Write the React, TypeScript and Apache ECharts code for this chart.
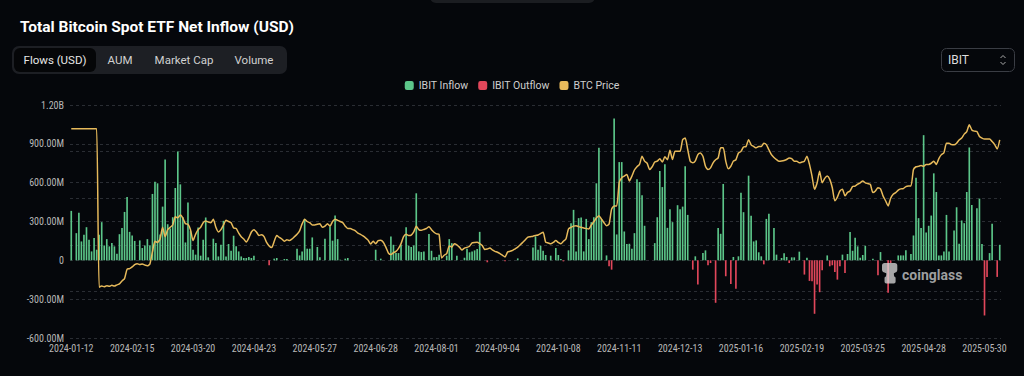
import React, { useEffect, useRef } from "react";
import * as echarts from "echarts";

// Weekday categories starting 2024-01-12 (367 trading-day slots)
const START_DATE = "2024-01-12";
const CATEGORY_COUNT = 367;
function buildWeekdays(start: string, n: number): string[] {
  const out: string[] = [];
  const d = new Date(start + "T00:00:00Z");
  while (out.length < n) {
    const wd = d.getUTCDay();
    if (wd !== 0 && wd !== 6) out.push(d.toISOString().slice(0, 10));
    d.setUTCDate(d.getUTCDate() + 1);
  }
  return out;
}
const dates = buildWeekdays(START_DATE, CATEGORY_COUNT);

// IBIT daily net flow, millions USD
const ibitFlow: number[] = [
  382, 0, 210, 367, 146, 197, 256, 159, 69, 172,
  82, 197, 295, 115, 164, 108, 133, 108, 51, 202,
  249, 374, 490, 220, 192, 150, 0, 154, 95, 115,
  164, 115, 513, 607, 595, 200, 415, 779, 279, 246,
  333, 559, 841, 587, 333, 138, 446, 228, 82, 44,
  254, 36, 159, 331, 23, 0, 167, 133, 30, 120,
  305, 30, 126, 74, 190, 108, 69, 30, 18, 18,
  26, 18, 36, 0, 0, 0, 0, 0, -38, 0,
  13, 18, 0, 0, 10, 10, 0, 0, 0, 90,
  38, 69, 320, 90, 90, 177, 0, 103, 23, 0,
  167, 0, 262, 152, 346, 164, 5, 0, 13, 18,
  0, 0, 0, 0, 0, 0, 0, 0, 0, 0,
  82, 0, 13, 0, 0, 0, 185, 120, 56, 56,
  120, 0, 256, 113, 103, 115, 518, 69, 64, 69,
  0, 203, 74, 23, 26, 44, 3, 0, 36, 164,
  133, 0, 36, 0, 0, 20, 90, 62, 69, 77,
  87, 220, 0, 0, -15, 0, 0, 0, 0, 0,
  0, -8, 0, 0, 0, 0, 15, 0, 0, 0,
  0, 0, 100, 185, 82, 113, 74, 41, 0, 36,
  0, 95, 41, 10, -8, 0, 77, 287, 390, 69,
  326, 331, 69, 320, 164, 295, 333, 595, 869, 320,
  0, 38, -46, -72, 1095, 200, 759, 759, 223, 126,
  128, 90, 210, 626, 605, 502, 267, 0, 0, 0,
  133, 333, 690, 566, 743, 251, 395, 295, 0, 426,
  395, 415, 726, 351, 0, -72, 31, -187, 0, 56,
  77, -38, -21, 0, -328, 249, 205, 590, -123, 0,
  -182, 26, -220, 31, 523, 372, 0, 654, 344, 146,
  154, 62, 31, -31, 320, 359, 0, 249, 44, 0,
  18, 54, 26, -21, 23, 23, 0, 67, 0, -110,
  20, -159, -162, -413, -187, -246, -77, 0, 38, -46,
  -38, -90, -149, -46, 44, -97, 49, 218, 74, 174,
  108, 20, 41, 113, 0, 0, 13, 0, -115, 64,
  0, 0, -251, -21, 0, 0, 38, 38, 38, 77,
  0, 49, 192, 638, 326, 249, 967, 215, 267, 346,
  672, 528, 38, 38, 69, 351, 69, 0, 231, 410,
  128, 308, 287, 528, 872, 428, 0, 403, 477, 126,
  -426, -128, 56, 282, 0, -128, 120,
];

// BTC price, thousands USD
const btcPrice: number[] = [
  109.8, 109.8, 109.8, 109.8, 109.8, 109.8, 109.8, 109.8, 109.8, 109.8,
  109.8, 41.8, 42.3, 42.0, 42.4, 42.2, 42.6, 42.3, 42.8, 43.2,
  44.5, 45.5, 49.5, 49.8, 50.5, 51.5, 51.9, 51.5, 51.8, 51.3,
  51.0, 51.8, 57.0, 61.5, 61.0, 62.5, 67.5, 63.5, 66.5, 67.5,
  68.5, 72.0, 71.6, 72.8, 71.5, 69.0, 68.8, 66.5, 61.8, 64.5,
  66.5, 67.5, 69.5, 70.2, 69.8, 69.5, 71.0, 67.5, 65.5, 66.5,
  68.5, 70.5, 70.0, 69.5, 67.2, 67.0, 65.0, 63.5, 62.5, 61.2,
  63.0, 65.5, 66.5, 65.5, 64.0, 64.3, 63.5, 61.0, 59.5, 58.8,
  61.5, 64.0, 63.2, 62.5, 61.5, 62.2, 61.8, 62.5, 63.5, 64.5,
  66.0, 69.0, 71.0, 70.0, 69.5, 68.5, 68.5, 68.8, 69.0, 67.5,
  68.0, 69.0, 68.0, 70.0, 71.0, 70.5, 70.0, 69.5, 68.0, 67.0,
  67.0, 66.5, 66.0, 65.0, 64.5, 63.8, 63.0, 62.0, 60.3, 61.5,
  60.5, 61.8, 62.0, 61.1, 59.0, 56.5, 55.8, 56.6, 57.2, 58.5,
  60.5, 63.5, 64.5, 64.0, 64.2, 65.5, 68.0, 66.5, 66.2, 66.6,
  67.0, 67.8, 66.5, 65.4, 64.7, 64.5, 54.3, 55.5, 56.2, 59.5,
  59.0, 60.5, 60.0, 59.0, 57.8, 58.6, 58.9, 59.4, 60.8, 61.0,
  61.1, 60.5, 59.7, 58.0, 58.2, 58.6, 57.8, 57.2, 56.8, 56.2,
  55.5, 54.8, 56.9, 57.2, 57.6, 58.3, 59.0, 60.0, 61.1, 62.2,
  63.3, 63.5, 63.7, 64.0, 64.2, 64.8, 65.4, 61.1, 60.8, 60.4,
  61.0, 61.8, 61.0, 60.4, 61.5, 62.5, 66.8, 67.5, 68.0, 68.2,
  67.8, 67.5, 67.2, 67.0, 66.8, 68.5, 69.9, 71.5, 72.5, 71.0,
  69.5, 68.2, 68.9, 75.3, 76.7, 76.7, 86.7, 88.8, 89.5, 90.2,
  87.4, 89.5, 92.1, 93.5, 94.5, 98.0, 95.9, 95.0, 92.3, 93.5,
  95.5, 95.9, 96.9, 95.5, 97.8, 96.5, 100.6, 96.6, 100.1, 100.1,
  100.1, 105.1, 105.8, 100.9, 95.9, 95.2, 96.0, 98.7, 99.4, 98.0,
  93.7, 92.3, 93.0, 95.2, 96.5, 97.3, 101.6, 101.6, 95.9, 92.6,
  93.7, 95.9, 96.5, 99.4, 100.1, 102.0, 102.2, 105.1, 102.9, 102.2,
  101.6, 102.2, 102.2, 103.6, 103.0, 100.8, 98.7, 97.5, 96.6, 95.9,
  96.0, 96.2, 96.6, 97.3, 97.0, 95.9, 95.9, 95.2, 95.5, 95.9,
  98.0, 94.5, 89.5, 83.8, 86.5, 91.6, 86.6, 88.5, 89.5, 88.1,
  84.5, 78.9, 80.5, 83.1, 83.8, 81.0, 82.5, 83.1, 85.0, 85.2,
  86.0, 86.6, 87.4, 86.6, 86.3, 85.9, 82.4, 83.1, 84.5, 84.0,
  81.0, 78.9, 76.7, 80.0, 81.7, 82.4, 83.5, 84.0, 84.1, 85.0,
  85.2, 85.2, 92.3, 93.5, 93.7, 94.0, 93.7, 94.5, 94.5, 95.0,
  95.9, 94.5, 97.0, 98.7, 99.5, 103.6, 103.6, 103.0, 102.9, 103.6,
  105.0, 105.8, 107.5, 108.6, 111.5, 109.3, 108.8, 108.6, 106.5, 105.8,
  105.4, 105.4, 105.4, 104.3, 103.0, 101.1, 105.0,
];

const tabLabels = ["Flows (USD)", "AUM", "Market Cap", "Volume"];
const tabCenters = [55, 120, 184, 254];

const BG = "#05070B";
const GREEN = "#5CC689";
const RED = "#E2475B";
const GOLD = "#E7BA5B";
const GRID_LINE = "#2A2D33";

function fmtAxis(v: number): string {
  if (v === 0) return "0";
  if (Math.abs(v) >= 1000) return (v / 1000).toFixed(2) + "B";
  return v.toFixed(2) + "M";
}

export default function App() {
  const ref = useRef<HTMLDivElement>(null);
  useEffect(() => {
    document.body.style.margin = "0";
    document.body.style.background = BG;
    if (!ref.current) return;
    echarts.graphic.registerShape(
      "cgLogo",
      echarts.graphic.extendPath(
        "M3 0 L15 0 Q18 0 18 3 L18 8 Q18 11 14 12 L14 14 Q14 16 16 17 L16 22 Q16 24 14 24 L5 24 Q3 24 3 22 L3 17 Q5 16 5 14 L5 12 Q0 11 0 8 L0 3 Q0 0 3 0 Z",
        {}
      )
    );
    const chart = echarts.init(ref.current, null, { renderer: "svg" });
    const axisFont = "'Liberation Sans Narrow', 'Roboto Condensed', Roboto, sans-serif";
    const tabTexts = tabLabels.map((t, i) => ({
      type: "text",
      x: tabCenters[i],
      y: 60,
      style: {
        text: t,
        fill: i === 0 ? "#E6E6E6" : "#D0D0D0",
        font: "11.5px Roboto, sans-serif",
        textAlign: "center",
        textVerticalAlign: "middle",
      },
    }));
    chart.setOption({
      animation: false,
      backgroundColor: BG,
      grid: { left: 70, right: 23, top: 105, bottom: 38 },
      legend: {
        top: 75,
        left: "center",
        icon: "roundRect",
        itemWidth: 9,
        itemHeight: 9,
        itemGap: 10,
        textStyle: { color: "#CFCFCF", fontSize: 10.5, fontFamily: "Roboto, sans-serif" },
        data: ["IBIT Inflow", "IBIT Outflow", "BTC Price"],
      },
      xAxis: {
        type: "category",
        data: dates,
        boundaryGap: true,
        axisLine: { show: false },
        axisTick: { show: false },
        axisLabel: {
          interval: 23,
          color: "#B8B8B8",
          fontSize: 10,
          fontFamily: axisFont,
          margin: 5,
        },
        splitLine: { show: false },
      },
      yAxis: [
        {
          type: "value",
          min: -600,
          max: 1200,
          interval: 300,
          axisLine: { show: false },
          axisTick: { show: false },
          axisLabel: {
            formatter: fmtAxis,
            color: "#B8B8B8",
            fontSize: 10,
            fontFamily: axisFont,
            margin: 6,
          },
          splitLine: { lineStyle: { color: GRID_LINE, type: [3, 3], width: 1 } },
        },
        {
          type: "value",
          position: "right",
          min: 20,
          max: 120,
          interval: 20,
          axisLine: { show: false },
          axisTick: { show: false },
          axisLabel: { show: false },
          splitLine: { lineStyle: { color: GRID_LINE, type: [3, 3], width: 1 } },
        },
      ],
      series: [
        {
          name: "IBIT Inflow",
          type: "bar",
          barWidth: "65%",
          barGap: "-100%",
          itemStyle: { color: GREEN },
          data: ibitFlow.map((v) => (v > 0 ? v : "-")),
        },
        {
          name: "IBIT Outflow",
          type: "bar",
          barWidth: "65%",
          barGap: "-100%",
          itemStyle: { color: RED },
          data: ibitFlow.map((v) => (v < 0 ? v : "-")),
        },
        {
          name: "BTC Price",
          type: "line",
          yAxisIndex: 1,
          showSymbol: false,
          smooth: 0.2,
          itemStyle: { color: GOLD },
          lineStyle: { color: GOLD, width: 1.5 },
          data: btcPrice,
        },
      ],
      graphic: [
        {
          type: "rect",
          shape: { x: 430, y: -10, width: 165, height: 13, r: 6 },
          style: { fill: "#1B1D21" },
        },
        {
          type: "text",
          x: 20,
          y: 27,
          style: {
            text: "Total Bitcoin Spot ETF Net Inflow (USD)",
            fill: "#FFFFFF",
            font: "bold 15.5px Roboto, sans-serif",
            textVerticalAlign: "middle",
          },
        },
        {
          type: "rect",
          shape: { x: 12, y: 46, width: 275, height: 28, r: 7 },
          style: { fill: "#1D1F24" },
        },
        {
          type: "rect",
          shape: { x: 14, y: 48, width: 82, height: 24, r: 6 },
          style: { fill: "#050608" },
        },
        ...tabTexts,
        {
          type: "rect",
          shape: { x: 941.5, y: 48.5, width: 73, height: 23, r: 5 },
          style: { fill: "transparent", stroke: "#3A3D44", lineWidth: 1 },
        },
        {
          type: "text",
          x: 948,
          y: 60,
          style: {
            text: "IBIT",
            fill: "#DDDDDD",
            font: "12px Roboto, sans-serif",
            textVerticalAlign: "middle",
          },
        },
        {
          type: "polyline",
          shape: { points: [[1000.5, 58], [1003, 55.5], [1005.5, 58]] },
          style: { stroke: "#AAAAAA", lineWidth: 1, fill: "none" },
        },
        {
          type: "polyline",
          shape: { points: [[1000.5, 62], [1003, 64.5], [1005.5, 62]] },
          style: { stroke: "#AAAAAA", lineWidth: 1, fill: "none" },
        },
        {
          type: "cgLogo",
          x: 882,
          y: 263,
          scaleX: 0.85,
          scaleY: 0.85,
          z: 100,
          style: { fill: "rgba(220,220,220,0.75)" },
        },
        {
          type: "text",
          x: 902,
          y: 275,
          z: 100,
          style: {
            text: "coinglass",
            fill: "rgba(210,210,210,0.75)",
            font: "bold 14px Roboto, sans-serif",
            textVerticalAlign: "middle",
          },
        },
      ],
    });
    return () => chart.dispose();
  }, []);
  return <div ref={ref} style={{ width: 1024, height: 376, background: BG }} />;
}
